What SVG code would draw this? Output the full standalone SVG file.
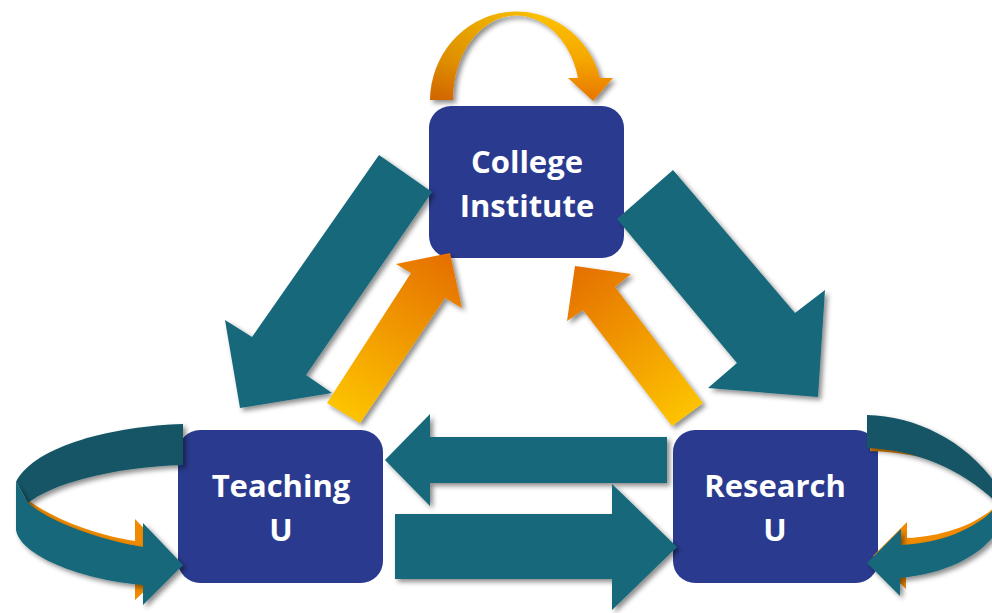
<svg xmlns="http://www.w3.org/2000/svg" width="992" height="613" viewBox="0 0 992 613">
<style>
.box{fill:#2a3b8f}
.lbl{font-family:"Open Sans","Liberation Sans",sans-serif;font-weight:700;font-size:31px;fill:#ffffff;text-anchor:middle}
.teal{fill:#17687a}
.tealdark{fill:#135565}
.orng{fill:#f08a00}
</style>
<defs>
<filter id="sh" x="-20%" y="-20%" width="140%" height="140%">
<feDropShadow dx="3" dy="3" stdDeviation="2.5" flood-color="#000" flood-opacity="0.45"/>
</filter>
<linearGradient id="gTopV" x1="0" y1="0" x2="0" y2="1">
<stop offset="0" stop-color="#fdc300"/>
<stop offset="0.55" stop-color="#f5a600"/>
<stop offset="1" stop-color="#e87400"/>
</linearGradient>
<linearGradient id="gTopShade" x1="0" y1="0" x2="1" y2="0">
<stop offset="0" stop-color="#7a2a00" stop-opacity="0.22"/>
<stop offset="0.5" stop-color="#7a2a00" stop-opacity="0.06"/>
<stop offset="0.6" stop-color="#7a2a00" stop-opacity="0"/>
<stop offset="1" stop-color="#7a2a00" stop-opacity="0"/>
</linearGradient>
<linearGradient id="gOL" gradientUnits="userSpaceOnUse" x1="343" y1="413" x2="452" y2="258">
<stop offset="0" stop-color="#fdc300"/>
<stop offset="1" stop-color="#e57000"/>
</linearGradient>
<linearGradient id="gOR" gradientUnits="userSpaceOnUse" x1="688" y1="415" x2="575" y2="270">
<stop offset="0" stop-color="#fdc300"/>
<stop offset="1" stop-color="#e57000"/>
</linearGradient>
</defs>

<g id="node-college">
<rect class="box" x="429" y="106" width="195" height="152" rx="22"/>
<text class="lbl" x="527" y="173">College</text>
<text class="lbl" x="527" y="217">Institute</text>
</g>
<g id="node-teaching">
<rect class="box" x="178" y="430" width="205" height="153" rx="22"/>
<text class="lbl" x="281" y="497">Teaching</text>
<text class="lbl" x="281" y="541">U</text>
</g>
<g id="node-research">
<rect class="box" x="673" y="430" width="205" height="153" rx="22"/>
<text class="lbl" x="775" y="497">Research</text>
<text class="lbl" x="775" y="541">U</text>
</g>

<g id="connectors">
<!-- top self loop -->
<g filter="url(#sh)">
<path d="M430,100 A86.5,90 0 0 1 600,78 L613,78 L593,101 L568,78 L578,78 A63.5,83 0 0 0 453,100 Z" fill="url(#gTopV)"/>
<path d="M430,100 A86.5,90 0 0 1 600,78 L613,78 L593,101 L568,78 L578,78 A63.5,83 0 0 0 453,100 Z" fill="url(#gTopShade)"/>
</g>
<!-- College to Teaching -->
<polygon class="teal" filter="url(#sh)" points="379,155 432,192 306,375 332,393 240,408 225,320 252,337"/>
<!-- College to Research -->
<polygon class="teal" filter="url(#sh)" points="673,170 795,313 825,290 818,397 708,388 737,363 617,219"/>
<!-- Teaching to College -->
<polygon fill="url(#gOL)" filter="url(#sh)" points="450,253 462,308 445,298 360,423 327,403 411,273 396,264"/>
<!-- Research to College -->
<polygon fill="url(#gOR)" filter="url(#sh)" points="575,266 631,274 615,287 703,403 672,426 583,310 567,321"/>
<!-- Research to Teaching -->
<polygon class="teal" filter="url(#sh)" points="385,460 430,414 430,437 667,437 667,483 430,483 430,506"/>
<!-- Teaching to Research -->
<polygon class="teal" filter="url(#sh)" points="395,514 612,514 612,484 677,547 612,610 612,579 395,579"/>
<!-- Teaching self loop -->
<path class="orng" d="M24,497 C48,517 95,535 135,541 L135,519 L176,562 L135,600 L135,582 L40,545 Z"/>
<path class="tealdark" filter="url(#sh)" d="M183,424 C115,426 35,445 16,482 L28,503 C50,485 110,467 183,465 Z"/>
<path class="teal" filter="url(#sh)" d="M16,482 L16,530 C20,555 80,580 143,585 L143,605 L183,565 L143,523 L143,547 C100,540 50,522 28,503 Z"/>
<!-- Research self loop -->
<path class="orng" d="M870,447 C900,448 925,453 945,460 L945,464 C925,457 900,452 870,451 Z"/>
<path class="orng" transform="translate(6,-7)" d="M996,507 C975,530 940,543 901,545 L901,529 L867,563 L900,596 L900,578 C945,574 980,556 996,533 Z"/>
<path class="tealdark" filter="url(#sh)" d="M867,415 C915,416 965,440 996,484 L996,502 C960,468 915,450 867,448 Z"/>
<path class="teal" filter="url(#sh)" d="M996,507 C975,530 940,543 901,545 L901,529 L867,563 L900,596 L900,578 C945,574 980,556 996,533 Z"/>
</g>
</svg>
